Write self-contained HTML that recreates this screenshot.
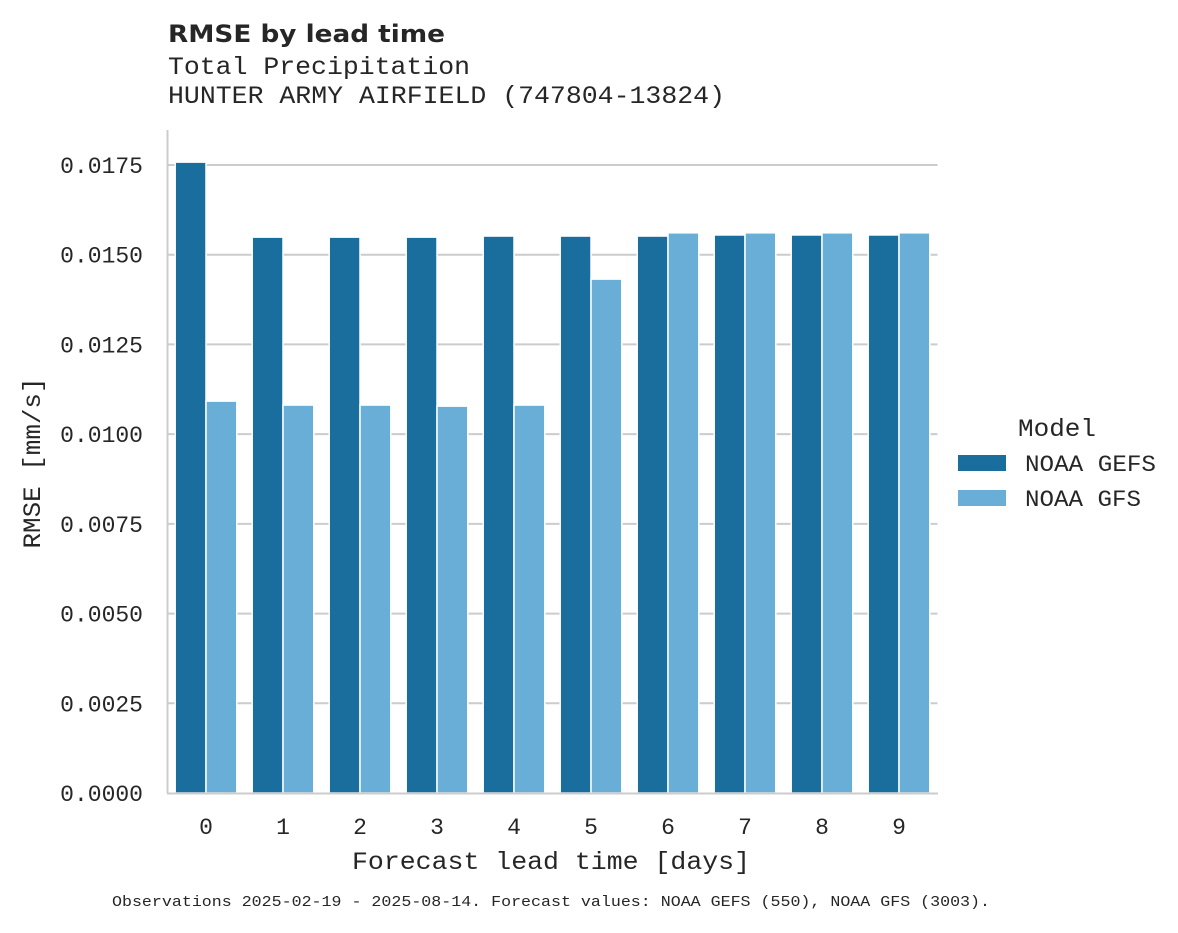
<!DOCTYPE html>
<html><head><meta charset="utf-8"><style>
html,body{margin:0;padding:0;background:#fff}
svg text{fill:#262626}
.m{font-family:"Liberation Mono",monospace}
</style></head><body>
<svg width="1178" height="928" viewBox="0 0 1178 928" xmlns="http://www.w3.org/2000/svg">
<text x="168" y="42" font-family="'DejaVu Sans','Liberation Sans',sans-serif" font-weight="bold" font-size="24" textLength="277" lengthAdjust="spacingAndGlyphs">RMSE by lead time</text>
<text class="m" x="168" y="74" font-size="25" textLength="302" lengthAdjust="spacingAndGlyphs">Total Precipitation</text>
<text class="m" x="168" y="103" font-size="25" textLength="557" lengthAdjust="spacingAndGlyphs">HUNTER ARMY AIRFIELD (747804-13824)</text>
<g id="grid"></g>
<g id="bars"></g>
<line x1="167.5" y1="130" x2="167.5" y2="793" stroke="#cccccc" stroke-width="2"/>
<line x1="167" y1="793.5" x2="938" y2="793.5" stroke="#cccccc" stroke-width="2"/>
<g id="ticks"></g>
<text class="m" transform="translate(40,463) rotate(-90)" text-anchor="middle" font-size="25" textLength="171" lengthAdjust="spacingAndGlyphs">RMSE [mm/s]</text>
<text class="m" x="551" y="869" text-anchor="middle" font-size="25" textLength="398" lengthAdjust="spacingAndGlyphs">Forecast lead time [days]</text>
<g>
<text class="m" x="1018" y="436" font-size="25" textLength="78" lengthAdjust="spacingAndGlyphs">Model</text>
<rect x="958" y="455" width="48" height="16" fill="#1a6e9e"/>
<text class="m" x="1025" y="471" font-size="23" textLength="131" lengthAdjust="spacingAndGlyphs">NOAA GEFS</text>
<rect x="958" y="490" width="48" height="16" fill="#68aed6"/>
<text class="m" x="1025" y="506" font-size="23" textLength="116" lengthAdjust="spacingAndGlyphs">NOAA GFS</text>
</g>
<text class="m" x="112" y="906" font-size="15" textLength="878" lengthAdjust="spacingAndGlyphs">Observations 2025-02-19 - 2025-08-14. Forecast values: NOAA GEFS (550), NOAA GFS (3003).</text>
</svg>
<script>
const categories = ["0","1","2","3","4","5","6","7","8","9"];
const gefsValues = [0.01758,0.01549,0.01549,0.01549,0.01552,0.01552,0.01552,0.01555,0.01555,0.01555];
const gfsValues = [0.01092,0.01081,0.01081,0.01078,0.01081,0.01432,0.01561,0.01561,0.01561,0.01561];
const yTicks = [0,0.0025,0.005,0.0075,0.01,0.0125,0.015,0.0175];
const yTickLabels = ["0.0000","0.0025","0.0050","0.0075","0.0100","0.0125","0.0150","0.0175"];

const NS="http://www.w3.org/2000/svg";
const x0=167.5,x1=937.5,yBase=793,yTop=165,yMax=0.0175;
const band=(x1-x0)/categories.length;
function y(v){return yBase-(v/yMax)*(yBase-yTop);}
function xc(i){return x0+band*(i+0.5);}
function mk(tag,attrs,parent){const e=document.createElementNS(NS,tag);for(const k in attrs)e.setAttribute(k,attrs[k]);parent.appendChild(e);return e;}
const grid=document.getElementById('grid'),bars=document.getElementById('bars'),ticks=document.getElementById('ticks');
yTicks.forEach((t,i)=>{
  if(t>0){const g=mk('line',{x1:x0,x2:x1,y1:y(t),y2:y(t),stroke:'#cccccc','stroke-width':2},grid);
  
  }
  const l=mk('text',{x:143,y:y(t)+8,'text-anchor':'end','font-size':23,class:'m'},ticks);
  l.textContent=yTickLabels[i];
  
  
});
const bw=band*0.8/2;
categories.forEach((c,i)=>{
  const cx=xc(i);
  const b1=mk('rect',{x:cx-bw,y:y(gefsValues[i]),width:bw,height:yBase-y(gefsValues[i]),fill:'#1a6e9e',stroke:'#fff','stroke-width':1.5},bars);
  
  
  const b2=mk('rect',{x:cx,y:y(gfsValues[i]),width:bw,height:yBase-y(gfsValues[i]),fill:'#68aed6',stroke:'#fff','stroke-width':1.5},bars);
  
  
  const l=mk('text',{x:cx,y:834,'text-anchor':'middle','font-size':23,class:'m'},ticks);
  l.textContent=c;
  
  
});
</script>
</body></html>
